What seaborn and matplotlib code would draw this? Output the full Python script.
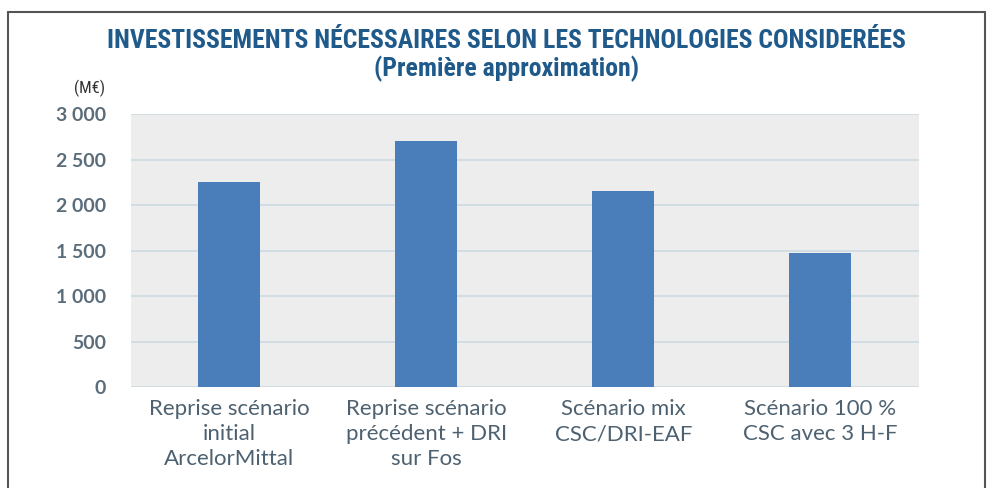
import matplotlib
matplotlib.use("Agg")
import matplotlib.pyplot as plt
import matplotlib.ticker as mticker
from matplotlib.lines import Line2D
import seaborn as sns
import pandas as pd

# data (M€)
scenarios = [
    "Reprise scénario\ninitial\nArcelorMittal",
    "Reprise scénario\nprécédent + DRI\nsur Fos",
    "Scénario mix\nCSC/DRI-EAF",
    "Scénario 100 %\nCSC avec 3 H-F",
]
investments = [2250, 2700, 2150, 1470]
y_ticks = [0, 500, 1000, 1500, 2000, 2500, 3000]

TITLE_BLUE = "#1F5A8A"
BAR_BLUE   = "#4A7EBB"
PLOT_BG    = "#EDEDED"
GRID       = "#CCDAE0"
TICK_GREY  = "#5A6D7A"
NARROW     = ["Roboto Condensed", "Liberation Sans Narrow", "DejaVu Sans Condensed",
              "Roboto", "DejaVu Sans"]

sns.set_theme(style="white")
plt.rcParams["font.family"] = ["Lato", "DejaVu Sans"]

df = pd.DataFrame({"scenario": scenarios, "invest": investments})

fig = plt.figure(figsize=(9.92, 4.88), dpi=100)
fig.patch.set_facecolor("white")
ax = fig.add_axes([0.132, 0.207, 0.794, 0.559])
ax.set_facecolor(PLOT_BG)

sns.barplot(data=df, x="scenario", y="invest", color=BAR_BLUE,
            width=0.315, saturation=1, linewidth=0, ax=ax, zorder=3)

ax.set_ylim(0, 3000)
ax.set_xlim(-0.5, len(scenarios) - 0.5)
ax.set_yticks(y_ticks)
ax.yaxis.set_major_formatter(
    mticker.FuncFormatter(lambda v, p: f"{int(v):,}".replace(",", " ")))
ax.grid(axis="y", color=GRID, linewidth=1.2, zorder=0)
ax.set_axisbelow(True)
for s in ax.spines.values():
    s.set_visible(False)
ax.set_xlabel("")
ax.set_ylabel("")
ax.tick_params(axis="y", length=0, pad=18, labelsize=14, labelcolor=TICK_GREY)
ax.tick_params(axis="x", length=0, pad=9, labelsize=16, labelcolor="#4D6170")
for t in ax.get_yticklabels():
    t.set_fontweight("bold")
for t in ax.get_xticklabels():
    t.set_linespacing(1.3)

fig.text(0.511, 0.917, "INVESTISSEMENTS NÉCESSAIRES SELON LES TECHNOLOGIES CONSIDERÉES",
         ha="center", va="center", fontsize=18.5, fontweight="bold",
         color=TITLE_BLUE, family=NARROW)
fig.text(0.511, 0.859, "(Première approximation)",
         ha="center", va="center", fontsize=18.5, fontweight="bold",
         color=TITLE_BLUE, family=NARROW)
fig.text(0.090, 0.818, "(M€)", ha="center", va="center", fontsize=12,
         color="#333333", family=NARROW)

# thin frame around the figure (top, left, right)
fig.add_artist(Line2D([0.008, 0.993], [0.975, 0.975], color="#555555", lw=1.5))
fig.add_artist(Line2D([0.008, 0.008], [0.0, 0.975], color="#555555", lw=1.5))
fig.add_artist(Line2D([0.993, 0.993], [0.0, 0.975], color="#555555", lw=1.5))

fig.savefig("out.png", dpi=100)
